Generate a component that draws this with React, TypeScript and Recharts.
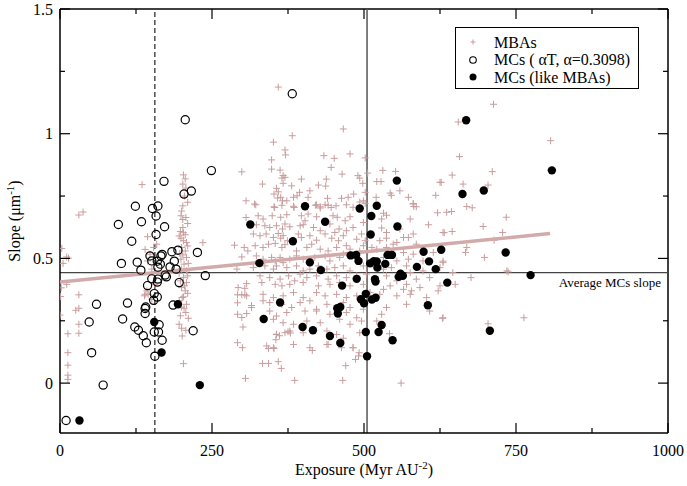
import React from 'react';
import { ScatterChart, Scatter, XAxis, YAxis, ReferenceLine } from 'recharts';

// plot frame in page pixels
const W = 687;
const H = 486;
const LEFT = 60;
const RIGHT = 668;
const TOP = 9;
const BOTTOM = 433;

const SERIF = '"Liberation Serif", "Times New Roman", serif';
const PINK = '#c99d9d';
const FIT = '#d2aaaa';

const xTicks = [0, 125, 250, 375, 500, 625, 750, 875, 1000];
const yTicks = [0, 0.25, 0.5, 0.75, 1, 1.25, 1.5];

// [exposure, slope]
const mbaWest: [number, number][] = [
  [38, 0.686], [31, 0.674], [11, 0.506], [3, 0.54], [14, 0.501], [5, 0.48], [11, 0.396], [2, 0.382],
  [31, 0.354], [1, 0.347], [0, 0.273], [13, 0.198], [13, 0.122], [13, 0.072], [13, 0.032],
  [13, 0.015], [31, 0.3], [26, 0.292], [31, 0.236], [31, 0.2],
];

const mbaColumn: [number, number][] = [
  [135, 0.796], [203, 0.835], [206, 0.819], [202, 0.798], [207, 0.782], [210, 0.725], [202, 0.711],
  [199, 0.671], [202, 0.656], [207, 0.664], [202, 0.624], [198, 0.608], [203, 0.603], [206, 0.595],
  [199, 0.581], [203, 0.571], [208, 0.564], [200, 0.544], [206, 0.53], [202, 0.514], [208, 0.504],
  [199, 0.497], [204, 0.477], [200, 0.457], [208, 0.45], [203, 0.423], [208, 0.403], [200, 0.383],
  [206, 0.37], [201, 0.343], [144, 0.587], [154, 0.544], [148, 0.517], [140, 0.536], [159, 0.557],
  [144, 0.49], [151, 0.457], [156, 0.396], [143, 0.37], [139, 0.35], [151, 0.336], [235, 0.563],
  [140, 0.356], [145, 0.356], [203, 0.346], [200, 0.305], [208, 0.316], [207, 0.283], [196, 0.236],
  [200, 0.22], [207, 0.212], [201, 0.189], [203, 0.078], [205, 0.75], [200, 0.69], [210, 0.64],
  [196, 0.59], [210, 0.55], [197, 0.52], [211, 0.48], [196, 0.44], [210, 0.43], [198, 0.41],
  [205, 0.39], [210, 0.36], [196, 0.33], [204, 0.3], [211, 0.26], [198, 0.27],
];

const mbaInner: [number, number][] = [
  [287, 0.553], [299, 0.847], [306, 0.731], [320, 0.718], [306, 0.664], [303, 0.544], [309, 0.53],
  [299, 0.506], [291, 0.457], [293, 0.383], [304, 0.38], [307, 0.399], [304, 0.354], [292, 0.354],
  [299, 0.354], [307, 0.35], [292, 0.322], [315, 0.311], [292, 0.276], [299, 0.263], [307, 0.279],
  [301, 0.225], [292, 0.162], [300, 0.142], [305, 0.019],
];

const mbaUpper: [number, number][] = [
  [359, 1.187], [382, 0.992], [351, 0.966], [466, 1.019], [370, 0.935], [371, 0.915], [348, 0.895],
  [348, 0.858], [362, 0.854], [367, 0.832], [370, 0.825], [365, 0.822], [333, 0.798], [367, 0.801],
  [356, 0.781], [381, 0.791], [397, 0.818], [434, 0.912], [451, 0.901], [477, 0.919], [446, 0.865],
  [438, 0.818], [464, 0.838], [437, 0.79], [425, 0.794], [490, 0.832], [493, 0.822], [502, 0.903],
  [506, 0.842], [498, 0.801], [521, 0.808], [528, 0.808], [531, 0.853], [552, 0.849], [559, 0.771],
  [543, 0.762], [545, 0.753], [573, 0.745], [581, 0.72], [582, 0.708], [618, 0.753], [625, 0.805],
  [520, 0.745], [502, 0.765], [499, 0.731], [483, 0.758], [463, 0.741], [474, 0.745], [440, 0.741],
  [411, 0.771], [408, 0.745], [394, 0.765], [390, 0.751], [352, 0.758], [359, 0.767], [366, 0.731],
  [358, 0.742], [363, 0.745], [373, 0.731], [384, 0.745], [385, 0.704], [322, 0.715], [353, 0.704],
  [422, 0.715], [428, 0.707], [436, 0.715], [446, 0.704],
];

const mbaCore: [number, number][] = [
  [352, 0.707], [365, 0.713], [384, 0.709], [420, 0.713], [428, 0.702], [441, 0.713], [454, 0.711],
  [471, 0.715], [482, 0.705], [493, 0.726], [502, 0.721], [532, 0.681], [581, 0.718], [586, 0.707],
  [621, 0.683], [636, 0.685],
  [326, 0.671], [334, 0.658], [349, 0.671], [363, 0.665], [373, 0.675], [397, 0.671], [403, 0.651],
  [408, 0.678], [422, 0.667], [449, 0.671], [456, 0.665], [469, 0.651], [477, 0.667], [499, 0.644],
  [529, 0.658], [537, 0.673], [576, 0.658], [606, 0.635], [630, 0.604],
  [323, 0.635], [337, 0.631], [345, 0.624], [356, 0.631], [366, 0.618], [370, 0.638], [378, 0.627],
  [395, 0.631], [400, 0.635], [417, 0.624], [428, 0.611], [444, 0.638], [452, 0.604], [459, 0.618],
  [471, 0.611], [482, 0.624], [496, 0.598], [529, 0.622], [537, 0.604], [559, 0.618], [573, 0.584],
  [581, 0.598],
  [318, 0.598], [329, 0.591], [339, 0.598], [351, 0.584], [359, 0.6], [363, 0.581], [367, 0.591],
  [374, 0.571], [392, 0.598], [397, 0.584], [411, 0.591], [422, 0.573], [436, 0.598], [447, 0.581],
  [458, 0.571], [466, 0.591], [488, 0.577], [502, 0.571], [526, 0.571], [537, 0.581], [554, 0.564],
  [565, 0.584], [586, 0.557],
  [321, 0.551], [334, 0.544], [343, 0.557], [354, 0.56], [365, 0.544], [370, 0.555], [389, 0.53],
  [406, 0.544], [414, 0.557], [428, 0.537], [441, 0.53], [455, 0.544], [471, 0.551], [477, 0.537],
  [499, 0.551], [521, 0.537], [537, 0.544], [548, 0.557], [565, 0.524], [581, 0.517], [614, 0.524],
  [323, 0.51], [334, 0.497], [348, 0.504], [354, 0.49], [362, 0.504], [367, 0.483], [378, 0.497],
  [389, 0.51], [400, 0.497], [419, 0.504], [436, 0.51], [444, 0.49], [460, 0.504], [466, 0.517],
  [493, 0.53], [513, 0.544], [532, 0.504], [554, 0.49], [573, 0.497], [597, 0.49], [630, 0.483],
  [318, 0.463], [337, 0.47], [351, 0.457], [356, 0.47], [373, 0.463], [389, 0.47], [400, 0.45],
  [411, 0.457], [425, 0.47], [439, 0.457], [452, 0.463], [466, 0.47], [477, 0.45], [499, 0.47],
  [532, 0.457], [545, 0.463], [570, 0.47], [576, 0.443], [597, 0.45], [625, 0.463],
  [329, 0.43], [345, 0.423], [362, 0.417], [376, 0.43], [386, 0.41], [395, 0.437], [406, 0.423],
  [422, 0.43], [441, 0.417], [455, 0.43], [471, 0.423], [488, 0.43], [504, 0.437], [521, 0.41],
  [537, 0.43], [554, 0.41], [570, 0.396], [586, 0.417], [608, 0.423],
  [332, 0.403], [354, 0.396], [365, 0.39], [378, 0.396], [400, 0.403], [425, 0.39], [444, 0.396],
  [460, 0.403], [477, 0.39], [499, 0.396], [532, 0.376], [543, 0.39], [565, 0.376], [578, 0.37],
  [592, 0.383], [622, 0.37],
  [334, 0.356], [351, 0.343], [367, 0.35], [384, 0.363], [400, 0.343], [422, 0.363], [436, 0.35],
  [455, 0.356], [471, 0.343], [488, 0.35], [510, 0.363], [526, 0.356], [554, 0.35], [576, 0.356],
  [603, 0.343],
  [334, 0.33], [345, 0.323], [365, 0.316], [381, 0.303], [395, 0.323], [411, 0.33], [422, 0.296],
  [439, 0.316], [466, 0.323], [477, 0.303], [499, 0.296], [537, 0.303], [570, 0.316], [608, 0.289],
  [315, 0.303], [345, 0.289], [356, 0.269], [373, 0.283], [403, 0.289], [422, 0.289], [444, 0.276],
  [471, 0.283], [488, 0.262], [529, 0.276], [630, 0.262],
  [351, 0.256], [367, 0.242], [384, 0.236], [406, 0.249], [428, 0.242], [460, 0.256], [477, 0.236],
  [496, 0.249], [521, 0.249],
  [356, 0.195], [370, 0.202], [378, 0.209], [400, 0.202], [439, 0.209], [455, 0.195], [493, 0.202],
  [340, 0.149], [351, 0.142], [384, 0.155], [411, 0.142], [439, 0.155], [482, 0.142],
];

const mbaLower: [number, number][] = [
  [356, 0.196], [361, 0.19], [355, 0.174], [343, 0.139], [352, 0.139], [333, 0.079], [343, 0.079],
  [359, 0.086], [364, 0.059], [386, 0.011], [415, 0.131], [441, 0.155], [466, 0.18], [463, 0.142],
  [482, 0.142], [492, 0.122], [491, 0.109], [486, 0.095], [470, 0.07], [465, 0.011], [542, 0.198],
  [561, 0.0], [375, 0.206], [379, 0.201],
];

const mbaEast: [number, number][] = [
  [713, 1.118], [655, 1.047], [807, 0.972], [657, 0.908], [645, 0.834], [711, 0.848], [663, 0.798],
  [704, 0.794], [627, 0.805], [669, 0.708], [678, 0.703], [644, 0.688], [734, 0.665], [696, 0.628],
  [632, 0.603], [645, 0.608], [728, 0.604], [714, 0.573], [669, 0.544], [667, 0.524], [698, 0.504],
  [630, 0.489], [735, 0.45], [737, 0.446], [646, 0.443], [676, 0.423], [650, 0.396], [625, 0.39],
  [629, 0.26], [763, 0.262], [704, 0.238],
];

const mcAlpha: [number, number][] = [
  [206, 1.056], [382, 1.16], [249, 0.852], [171, 0.809], [204, 0.758], [216, 0.77], [124, 0.709],
  [152, 0.7], [161, 0.71], [158, 0.67], [96, 0.636], [134, 0.647], [172, 0.627], [118, 0.569],
  [158, 0.596], [226, 0.524], [101, 0.48], [127, 0.485], [133, 0.453], [148, 0.51], [151, 0.49],
  [160, 0.489], [166, 0.51], [168, 0.516], [165, 0.477], [161, 0.465], [184, 0.527], [194, 0.533],
  [188, 0.489], [181, 0.466], [191, 0.457], [239, 0.431], [173, 0.433], [175, 0.426], [151, 0.418],
  [161, 0.417], [160, 0.405], [196, 0.403], [144, 0.391], [155, 0.359], [160, 0.345], [154, 0.332],
  [60, 0.316], [111, 0.321], [141, 0.305], [140, 0.299], [140, 0.279], [186, 0.313], [48, 0.245],
  [103, 0.257], [163, 0.234], [123, 0.225], [129, 0.212], [137, 0.19], [142, 0.162], [155, 0.205],
  [162, 0.205], [168, 0.172], [156, 0.108], [219, 0.21], [52, 0.122], [71, -0.008], [10, -0.15],
];

const mcLike: [number, number][] = [
  [313, 0.636], [194, 0.316], [155, 0.245], [167, 0.123], [230, -0.008], [32, -0.15], [554, 0.812],
  [403, 0.709], [493, 0.7], [521, 0.711], [436, 0.647], [512, 0.67], [555, 0.628], [383, 0.569],
  [511, 0.596], [328, 0.481], [411, 0.484], [429, 0.453], [478, 0.512], [487, 0.514], [491, 0.49],
  [510, 0.48], [516, 0.489], [521, 0.488], [522, 0.463], [535, 0.478], [539, 0.514], [546, 0.514],
  [598, 0.527], [627, 0.535], [607, 0.488], [587, 0.466], [618, 0.457], [557, 0.426], [560, 0.439],
  [564, 0.43], [637, 0.403], [488, 0.418], [518, 0.417], [519, 0.407], [464, 0.391], [503, 0.358],
  [495, 0.336], [500, 0.32], [513, 0.335], [519, 0.342], [362, 0.323], [605, 0.312], [461, 0.305],
  [456, 0.3], [457, 0.279], [335, 0.257], [399, 0.225], [416, 0.212], [444, 0.189], [461, 0.161],
  [529, 0.233], [524, 0.205], [503, 0.205], [547, 0.172], [505, 0.108], [668, 1.054], [809, 0.853],
  [662, 0.758], [697, 0.772], [733, 0.524], [774, 0.433], [707, 0.21],
];

// linear fit through the MBAs
const fitLine: [number, number][] = [[0, 0.405], [806, 0.6]];

const AVG_MC_SLOPE = 0.443;
const ALPHA_EXPOSURE = 156;
const MBA_MEAN_EXPOSURE = 505;

const toPts = (a: [number, number][]) => a.map(([x, y]) => ({ x, y }));
const mbaData = toPts([...mbaWest, ...mbaColumn, ...mbaInner, ...mbaUpper, ...mbaCore, ...mbaLower, ...mbaEast]);

const Plus = (p: any) => (
  <path d={`M${p.cx - 3.5},${p.cy}h7M${p.cx},${p.cy - 3.5}v7`} stroke={PINK} strokeWidth={1} fill="none" />
);
const Ring = (p: any) => <circle cx={p.cx} cy={p.cy} r={4.1} fill="none" stroke="#000" strokeWidth={1.2} />;
const Dot = (p: any) => <circle cx={p.cx} cy={p.cy} r={4.2} fill="#000" />;
const NoShape = () => null;

const XTick = ({ x, payload }: any) => {
  const v = payload.value;
  const major = v % 250 === 0;
  const len = major ? 10 : 5;
  return (
    <g>
      <line x1={x} x2={x} y1={BOTTOM} y2={BOTTOM - len} stroke="#000" strokeWidth={1.2} />
      <line x1={x} x2={x} y1={TOP} y2={TOP + len} stroke="#000" strokeWidth={1.2} />
      {major && (
        <text x={x} y={456} textAnchor="middle" fontSize={16} fontFamily={SERIF} fill="#000">
          {v}
        </text>
      )}
    </g>
  );
};

const YTick = ({ y, payload }: any) => {
  const v = payload.value;
  const major = Math.abs(v * 2 - Math.round(v * 2)) < 1e-6;
  const len = major ? 10 : 5;
  return (
    <g>
      <line x1={LEFT} x2={LEFT + len} y1={y} y2={y} stroke="#000" strokeWidth={1.2} />
      <line x1={RIGHT} x2={RIGHT - len} y1={y} y2={y} stroke="#000" strokeWidth={1.2} />
      {major && (
        <text x={53} y={y + 5.5} textAnchor="end" fontSize={16} fontFamily={SERIF} fill="#000">
          {v}
        </text>
      )}
    </g>
  );
};

export default function App() {
  return (
    <div style={{ position: 'absolute', left: 0, top: 0, width: W, height: H, background: '#fff' }}>
      <ScatterChart
        width={W}
        height={H}
        margin={{ top: TOP, right: W - RIGHT, left: LEFT - 50, bottom: H - BOTTOM - 40 }}
      >
        <XAxis
          dataKey="x"
          type="number"
          domain={[0, 1000]}
          ticks={xTicks}
          tick={<XTick />}
          tickLine={false}
          tickSize={0}
          height={40}
          allowDataOverflow
          axisLine={{ stroke: '#000', strokeWidth: 1.5 }}
        />
        <YAxis
          dataKey="y"
          type="number"
          domain={[-0.2, 1.5]}
          ticks={yTicks}
          tick={<YTick />}
          tickLine={false}
          tickSize={0}
          width={50}
          allowDataOverflow
          axisLine={{ stroke: '#000', strokeWidth: 1.5 }}
        />
        <ReferenceLine y={1.5} stroke="#000" strokeWidth={1.5} />
        <ReferenceLine x={1000} stroke="#000" strokeWidth={1.5} />
        <Scatter data={mbaData} shape={<Plus />} isAnimationActive={false} />
        <Scatter
          data={toPts(fitLine)}
          line={{ stroke: FIT, strokeWidth: 3.5 }}
          shape={<NoShape />}
          isAnimationActive={false}
        />
        <ReferenceLine x={ALPHA_EXPOSURE} stroke="#333" strokeWidth={1.3} strokeDasharray="5 3" />
        <ReferenceLine x={MBA_MEAN_EXPOSURE} stroke="#555" strokeWidth={1.5} />
        <ReferenceLine y={AVG_MC_SLOPE} stroke="#444" strokeWidth={1.2} />
        <Scatter data={toPts(mcAlpha)} shape={<Ring />} isAnimationActive={false} />
        <Scatter data={toPts(mcLike)} shape={<Dot />} isAnimationActive={false} />
      </ScatterChart>
      <svg
        width={W}
        height={H}
        style={{ position: 'absolute', left: 0, top: 0, pointerEvents: 'none' }}
        fontFamily={SERIF}
      >
        <text x={661} y={287} textAnchor="end" fontSize={13}>
          Average MCs slope
        </text>
        <rect x={455.5} y={27.5} width={183} height={61} fill="#fff" stroke="#000" strokeWidth={1} />
        <path d="M470.5,42h5M473,39.5v5" stroke={PINK} strokeWidth={1} />
        <text x={494} y={47.5} fontSize={16}>MBAs</text>
        <circle cx={473} cy={60} r={3.3} fill="none" stroke="#000" strokeWidth={1.1} />
        <text x={494} y={65} fontSize={16}>MCs ( αT, α=0.3098)</text>
        <circle cx={473} cy={77} r={3.5} fill="#000" />
        <text x={494} y={82.5} fontSize={16}>MCs (like MBAs)</text>
        <text x={364} y={475} textAnchor="middle" fontSize={16}>
          Exposure (Myr AU
          <tspan dy={-6} fontSize={11}>-2</tspan>
          <tspan dy={6}>)</tspan>
        </text>
        <text transform="translate(20,221) rotate(-90)" textAnchor="middle" fontSize={16}>
          Slope (μm
          <tspan dy={-6} fontSize={11}>-1</tspan>
          <tspan dy={6}>)</tspan>
        </text>
      </svg>
    </div>
  );
}
